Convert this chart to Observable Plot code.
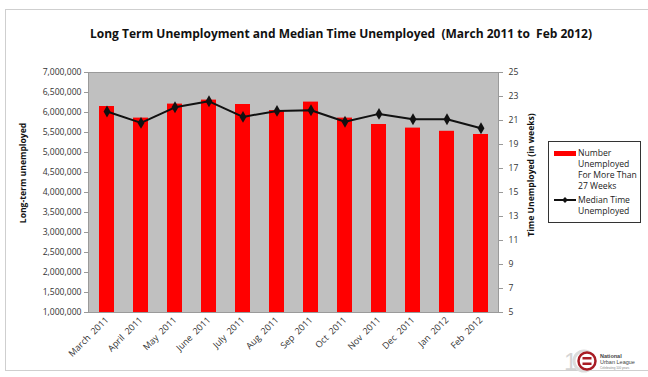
<!DOCTYPE html>
<html>
<head>
<meta charset="utf-8">
<script src="https://cdn.jsdelivr.net/npm/d3@7"></script>
<script src="https://cdn.jsdelivr.net/npm/@observablehq/plot@0.6"></script>
<style>
  html, body { margin: 0; padding: 0; background: #fff; }
  #wrap { position: relative; width: 648px; height: 377px; overflow: hidden; font-family: "Open Sans", "Liberation Sans", sans-serif; }
  #frame { position: absolute; left: 5px; top: 9px; width: 645px; height: 362px; border: 1px solid #cfcfcf; box-sizing: border-box; }
  #title { position: absolute; left: 0; top: 25px; width: 682px; text-align: center; font-weight: bold; font-size: 12px; color: #111; white-space: pre; }
  #legend { position: absolute; left: 548px; top: 141px; width: 93px; height: 82px; border: 1px solid #333; box-sizing: border-box; font-size: 8.6px; color: #222; line-height: 11px; }
  #chart { position: absolute; left: 0; top: 0; }
  .ylab { position: absolute; font-weight: bold; font-size: 8.6px; color: #111; white-space: nowrap; transform-origin: center; }
</style>
</head>
<body>
<div id="wrap">
  <div id="frame"></div>
  <div id="chart"></div>
  <div id="title">Long Term Unemployment and Median Time Unemployed  (March 2011 to  Feb 2012)</div>
  <div class="ylab" id="ylabL">Long-term unemployed</div>
  <div class="ylab" id="ylabR">Time Unemployed (in weeks)</div>
  <div id="legend"></div>
  <div id="logo"></div>
</div>
<script>
const months = ["March  2011","April  2011","May  2011","June  2011","July  2011","Aug  2011","Sep  2011","Oct  2011","Nov  2011","Dec  2011","Jan  2012","Feb  2012"];
const longTermUnemployed = [6150000, 5860000, 6210000, 6310000, 6200000, 6050000, 6260000, 5860000, 5700000, 5610000, 5530000, 5450000];
const medianWeeks = [21.75, 20.8, 22.1, 22.6, 21.3, 21.8, 21.85, 20.9, 21.55, 21.1, 21.1, 20.35];
const leftTicks = [1000000,1500000,2000000,2500000,3000000,3500000,4000000,4500000,5000000,5500000,6000000,6500000,7000000];
const rightTicks = [5,7,9,11,13,15,17,19,21,23,25];
const legendLabels = ["Number Unemployed For More Than 27 Weeks", "Median Time Unemployed"];

// map weeks (5..25) onto the left scale (1M..7M)
const w2y = w => 1000000 + (w - 5) * 300000;
const y2w = y => Math.round((y - 1000000) / 300000 + 5);

const bars = months.map((m, i) => ({month: m, value: longTermUnemployed[i]}));
const line = months.map((m, i) => ({month: m, weeks: medianWeeks[i], yv: w2y(medianWeeks[i])}));

const chart = Plot.plot({
  width: 648,
  height: 377,
  marginTop: 72,
  marginBottom: 65,
  marginLeft: 88,
  marginRight: 150,
  style: {fontFamily: "'Open Sans', 'Liberation Sans', sans-serif", fontSize: "8.6px", color: "#333", background: "transparent"},
  x: {type: "band", domain: months, paddingInner: 0.56, paddingOuter: 0.28, align: 0.5},
  y: {domain: [1000000, 7000000]},
  marks: [
    Plot.frame({fill: "#c0c0c0", stroke: "#9a9a9a"}),
    Plot.barY(bars, {x: "month", y1: 1000000, y2: "value", fill: "#ff0000"}),
    Plot.line(line, {x: "month", y: "yv", stroke: "#111", strokeWidth: 2}),
    Plot.dot(line, {x: "month", y: "yv", symbol: "diamond", fill: "#111", r: 3.6}),
    Plot.axisY({ticks: leftTicks, tickFormat: d3.format(","), tickSize: 4, tickPadding: 3, label: null, stroke: "#999"}),
    Plot.axisY({anchor: "right", ticks: rightTicks.map(w2y), tickFormat: y2w, tickSize: 4, tickPadding: 6, label: null, stroke: "#999"}),
    Plot.axisX({tickRotate: -45, tickSize: 0, tickPadding: 6, label: null, fontSize: "9px"})
  ]
});
document.getElementById("chart").appendChild(chart);

// rotated axis titles
const L = document.getElementById("ylabL");
L.style.left = (23 - 60) + "px"; L.style.width = "120px"; L.style.textAlign = "center";
L.style.top = (173 - 6) + "px"; L.style.transform = "rotate(-90deg)";
const R = document.getElementById("ylabR");
R.style.left = (531 - 70) + "px"; R.style.width = "140px"; R.style.textAlign = "center";
R.style.top = (175 - 6) + "px"; R.style.transform = "rotate(-90deg)";

// legend
const lg = d3.select("#legend").append("svg").attr("width", 93).attr("height", 82)
  .style("font-family", "'Open Sans', 'Liberation Sans', sans-serif").style("font-size", "8.6px").style("fill", "#222");
lg.append("rect").attr("x", 5).attr("y", 9).attr("width", 22).attr("height", 5).attr("fill", "#ff0000");
const l1 = ["Number", "Unemployed", "For More Than", "27 Weeks"];
l1.forEach((t, i) => lg.append("text").attr("x", 29).attr("y", 14 + i * 11).text(t));
lg.append("line").attr("x1", 5).attr("x2", 27).attr("y1", 58).attr("y2", 58).attr("stroke", "#111").attr("stroke-width", 2);
lg.append("path").attr("d", d3.symbol(d3.symbolDiamond2, 22)()).attr("transform", "translate(16,58)").attr("fill", "#111");
["Median Time", "Unemployed"].forEach((t, i) => lg.append("text").attr("x", 29).attr("y", 61 + i * 11).text(t));

// logo
const lo = d3.select("#logo").style("position", "absolute").style("left", "560px").style("top", "344px")
  .append("svg").attr("width", 88).attr("height", 32);
lo.append("text").attr("x", 4).attr("y", 26).attr("font-size", 24).attr("font-family", "Liberation Sans").attr("fill", "#d4d4d4").text("1");
lo.append("circle").attr("cx", 24).attr("cy", 17).attr("r", 10).attr("fill", "none").attr("stroke", "#dcdcdc").attr("stroke-width", 3);
lo.append("circle").attr("cx", 27).attr("cy", 17).attr("r", 8.5).attr("fill", "#fff").attr("stroke", "#a81c24").attr("stroke-width", 2.5);
lo.append("rect").attr("x", 22.5).attr("y", 13).attr("width", 9).attr("height", 2.5).attr("fill", "#a81c24");
lo.append("rect").attr("x", 22.5).attr("y", 18.5).attr("width", 9).attr("height", 2.5).attr("fill", "#a81c24");
lo.append("text").attr("x", 40).attr("y", 14).attr("font-size", 5.5).attr("font-weight", "bold").attr("fill", "#444").attr("font-family", "Liberation Sans").text("National");
lo.append("text").attr("x", 40).attr("y", 20).attr("font-size", 5.5).attr("fill", "#444").attr("font-family", "Liberation Sans").text("Urban League");
lo.append("text").attr("x", 40).attr("y", 25).attr("font-size", 3).attr("fill", "#888").attr("font-family", "Liberation Sans").text("Celebrating 100 years");
</script>
</body>
</html>
